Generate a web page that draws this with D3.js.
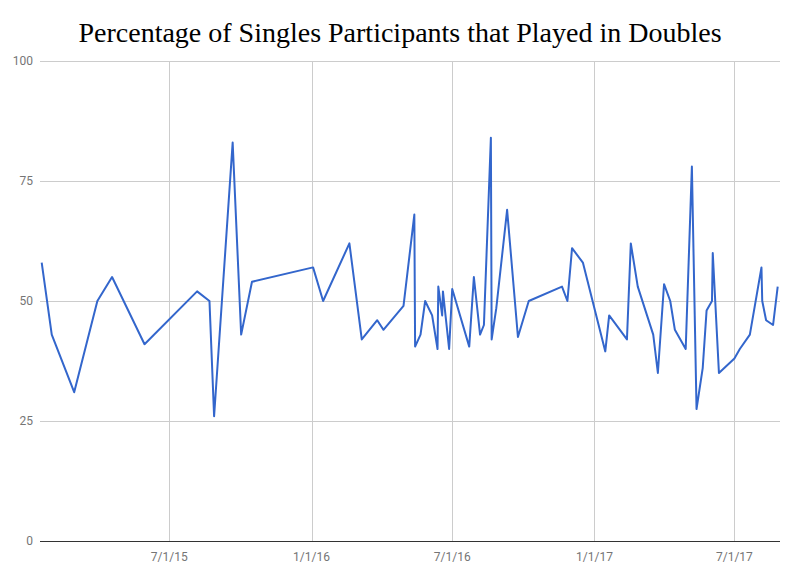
<!DOCTYPE html>
<html>
<head>
<meta charset="utf-8">
<script src="https://cdn.jsdelivr.net/npm/d3@7"></script>
<style>
  html, body { margin: 0; padding: 0; background: #fff; }
  svg { display: block; }
</style>
</head>
<body>
<svg id="chart" width="800" height="581"></svg>
<script>
const title = "Percentage of Singles Participants that Played in Doubles";

const dates = [
  "2015-01-17","2015-01-30","2015-02-28","2015-03-30","2015-04-18","2015-05-30",
  "2015-08-06","2015-08-22","2015-08-28","2015-09-21","2015-10-02","2015-10-16",
  "2016-01-03","2016-01-16","2016-02-19","2016-03-06","2016-03-26","2016-04-03",
  "2016-04-29","2016-05-13","2016-05-14","2016-05-21","2016-05-27","2016-06-05",
  "2016-06-12","2016-06-13","2016-06-18","2016-06-19","2016-06-27","2016-07-01",
  "2016-07-23","2016-07-29","2016-08-06","2016-08-11","2016-08-20","2016-08-21",
  "2016-08-27","2016-09-10","2016-09-24","2016-10-08","2016-11-20","2016-11-27",
  "2016-12-03","2016-12-17","2017-01-15","2017-01-20","2017-02-12","2017-02-17",
  "2017-02-26","2017-03-18","2017-03-24","2017-04-01","2017-04-09","2017-04-15",
  "2017-04-29","2017-05-07","2017-05-13","2017-05-21","2017-05-26","2017-06-02",
  "2017-06-03","2017-06-11","2017-07-01","2017-07-08","2017-07-21","2017-08-05",
  "2017-08-06","2017-08-11","2017-08-20","2017-08-26"
];

const values = [
  58, 43, 31, 50, 55, 41,
  52, 50, 26, 83, 43, 54,
  57, 50, 62, 42, 46, 44,
  49, 68, 40.5, 43, 50, 47,
  40, 53, 47, 52, 40, 52.5,
  40.5, 55, 43, 45, 84, 42,
  48.5, 69, 42.5, 50, 53, 50,
  61, 58, 39.5, 47, 42, 62,
  53, 43, 35, 53.5, 50, 44,
  40, 78, 27.5, 36, 48, 50,
  60, 35, 38, 40, 43, 57,
  50, 46, 45, 53
];

const xTickDates = ["2015-07-01","2016-01-01","2016-07-01","2017-01-01","2017-07-01"];
const xTickLabels = ["7/1/15","1/1/16","7/1/16","1/1/17","7/1/17"];
const yTicks = [0, 25, 50, 75, 100];

const parse = d3.utcParse("%Y-%m-%d");
const data = dates.map((d, i) => ({ date: parse(d), value: values[i] }));

const svg = d3.select("#chart");
const plot = { left: 40, right: 780, top: 61, bottom: 541 };

const x = d3.scaleUtc()
  .domain(d3.extent(data, d => d.date))
  .range([41.7, 777.7]);
const y = d3.scaleLinear().domain([0, 100]).range([plot.bottom, plot.top]);

// horizontal gridlines
svg.append("g").selectAll("line")
  .data(yTicks.filter(t => t !== 0))
  .join("line")
  .attr("x1", plot.left).attr("x2", plot.right)
  .attr("y1", d => y(d)).attr("y2", d => y(d))
  .attr("stroke", "#cccccc").attr("stroke-width", 1)
  .attr("shape-rendering", "crispEdges");

// vertical gridlines
svg.append("g").selectAll("line")
  .data(xTickDates.map(parse))
  .join("line")
  .attr("x1", d => Math.round(x(d)) + 0.5).attr("x2", d => Math.round(x(d)) + 0.5)
  .attr("y1", plot.top).attr("y2", plot.bottom)
  .attr("stroke", "#cccccc").attr("stroke-width", 1);

// y labels
svg.append("g").selectAll("text")
  .data(yTicks)
  .join("text")
  .attr("x", 33).attr("y", d => y(d) + 4)
  .attr("text-anchor", "end")
  .attr("font-family", "Roboto, Arial, sans-serif")
  .attr("font-size", 12)
  .attr("fill", "#757575")
  .text(d => d);

// x labels
svg.append("g").selectAll("text")
  .data(xTickDates.map((d, i) => ({ d: parse(d), label: xTickLabels[i] })))
  .join("text")
  .attr("x", d => x(d.d)).attr("y", 561)
  .attr("text-anchor", "middle")
  .attr("font-family", "Roboto, Arial, sans-serif")
  .attr("font-size", 12)
  .attr("fill", "#757575")
  .text(d => d.label);

// baseline
svg.append("line")
  .attr("x1", plot.left).attr("x2", plot.right)
  .attr("y1", y(0)).attr("y2", y(0))
  .attr("stroke", "#333333").attr("stroke-width", 1)
  .attr("shape-rendering", "crispEdges");

// series line
const line = d3.line().x(d => x(d.date)).y(d => y(d.value));
svg.append("path")
  .datum(data)
  .attr("d", line)
  .attr("fill", "none")
  .attr("stroke", "#3366cc")
  .attr("stroke-width", 2)
  .attr("stroke-linejoin", "round");

// title
svg.append("text")
  .attr("x", 400).attr("y", 42)
  .attr("text-anchor", "middle")
  .attr("font-family", "'Liberation Serif', 'DejaVu Serif', serif")
  .attr("font-size", 28)
  .attr("fill", "#000")
  .text(title);
</script>
</body>
</html>
